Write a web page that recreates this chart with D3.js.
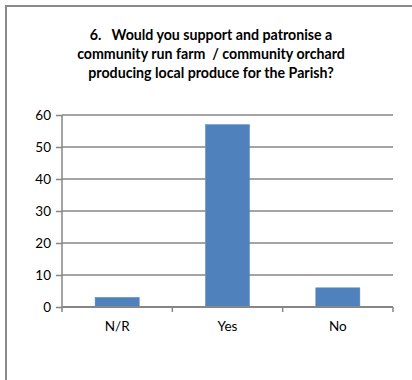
<!DOCTYPE html>
<html><head><meta charset="utf-8">
<script src="https://cdn.jsdelivr.net/npm/d3@7"></script>
<style>body{margin:0;background:#fff}svg{display:block}</style>
</head><body>
<script>
const titleLines = ["6.   Would you support and patronise a", "community run farm  / community orchard", "producing local produce for the Parish?"];
const categories = ["N/R", "Yes", "No"];
const values = [3, 57, 6];
const yTicks = [0, 10, 20, 30, 40, 50, 60];

const W = 412, H = 380;
const svg = d3.select("body").append("svg").attr("width", W).attr("height", H);
svg.append("rect").attr("width", W).attr("height", H).attr("fill", "#fff");
// outer frame (extends past right/bottom)
svg.append("rect").attr("x", 6).attr("y", 6).attr("width", W + 10).attr("height", H + 10)
  .attr("fill", "none").attr("stroke", "#8a8a8a").attr("stroke-width", 2);

const font = "Lato, 'Open Sans', sans-serif";
svg.append("g").selectAll("text").data(titleLines).join("text")
  .attr("x", 211).attr("y", (d, i) => 40 + i * 19)
  .attr("text-anchor", "middle").attr("font-family", font).attr("font-weight", "bold")
  .style("white-space", "pre")
  .attr("font-size", 14.2).attr("fill", "#000").text(d => d);

const x = d3.scaleBand().domain(categories).range([62, 393]).padding(0);
const y = d3.scaleLinear().domain([0, 60]).range([307, 115]);

// gridlines
svg.append("g").selectAll("line").data(yTicks.filter(t => t > 0)).join("line")
  .attr("x1", 62).attr("x2", 393).attr("y1", d => y(d)).attr("y2", d => y(d))
  .attr("stroke", "#868686").attr("stroke-width", 1.5);

// bars
const bw = x.bandwidth() * 0.4;
svg.append("g").selectAll("rect").data(values).join("rect")
  .attr("x", (d, i) => x(categories[i]) + (x.bandwidth() - bw) / 2)
  .attr("width", bw)
  .attr("y", d => y(d)).attr("height", d => y(0) - y(d))
  .attr("fill", "#4f81bd").attr("stroke", "#5b8cc6").attr("stroke-width", 0.5);

// y axis
const yAxis = d3.axisLeft(y).tickValues(yTicks).tickSize(6).tickPadding(5);
const gy = svg.append("g").attr("transform", "translate(62,0)").call(yAxis);
gy.select(".domain").attr("stroke", "#868686").attr("stroke-width", 1.5).attr("d", "M0,115V307");
gy.selectAll(".tick line").attr("stroke", "#868686").attr("stroke-width", 1.5);
gy.selectAll("text").attr("font-family", font).attr("font-size", 13.5).attr("fill", "#000");

// x axis
const xAxis = d3.axisBottom(x).tickSize(0).tickPadding(14);
const gx = svg.append("g").attr("transform", "translate(0,307)").call(xAxis);
gx.select(".domain").attr("stroke", "#868686").attr("stroke-width", 2).attr("d", "M62,0H393");
gx.selectAll("text").attr("font-family", font).attr("font-size", 13.5).attr("fill", "#000");
// category boundary ticks
const bounds = categories.map(c => x(c)).concat([x.range()[1]]);
gx.append("g").selectAll("line").data(bounds).join("line")
  .attr("x1", d => d).attr("x2", d => d).attr("y1", 0).attr("y2", 5)
  .attr("stroke", "#868686").attr("stroke-width", 1.5);
</script>
</body></html>
